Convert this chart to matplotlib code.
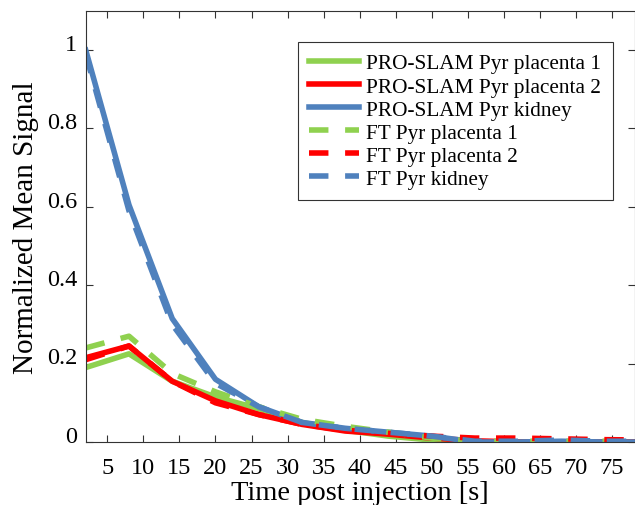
import matplotlib.pyplot as plt
import matplotlib.transforms as mtransforms
import numpy as np

plt.rcParams['font.family'] = ['Liberation Serif', 'DejaVu Serif']

t = [2, 8, 14, 20, 26, 32, 38, 44, 50, 56, 62, 68, 74, 80]

slam_plac1 = [0.19, 0.225, 0.155, 0.115, 0.085, 0.05, 0.03, 0.015, 0.005, 0.0, 0.0, 0.0, 0.0, 0.0]
slam_plac2 = [0.215, 0.245, 0.155, 0.105, 0.07, 0.045, 0.028, 0.02, 0.01, 0.003, 0.0, 0.0, 0.0, 0.0]
slam_kidney = [1.0, 0.605, 0.315, 0.16, 0.09, 0.05, 0.035, 0.025, 0.015, 0.0, 0.0, 0.002, 0.0, 0.0]
ft_plac1 = [0.24, 0.27, 0.175, 0.128, 0.09, 0.058, 0.04, 0.025, 0.01, 0.002, 0.002, 0.002, 0.002, 0.002]
ft_plac2 = [0.21, 0.245, 0.155, 0.10, 0.07, 0.045, 0.03, 0.022, 0.015, 0.01, 0.01, 0.008, 0.006, 0.005]
ft_kidney = [0.99, 0.59, 0.30, 0.15, 0.09, 0.05, 0.035, 0.025, 0.015, 0.002, 0.002, 0.005, 0.002, 0.002]

green = '#8fd14f'
red = '#ff0000'
blue = '#4f81bd'

fig = plt.figure(figsize=(6.35, 5.06), dpi=100)
ax = fig.add_axes([0.135, 0.1245, 0.865, 0.852])

lw = 4
ax.plot(t, slam_plac1, color=green, lw=lw, label='PRO-SLAM Pyr placenta 1')
ax.plot(t, slam_plac2, color=red, lw=lw, label='PRO-SLAM Pyr placenta 2')
ax.plot(t, slam_kidney, color=blue, lw=lw, label='PRO-SLAM Pyr kidney')
ax.plot(t, ft_plac1, color=green, lw=lw, dashes=(3.5, 3), label='FT Pyr placenta 1')
ax.plot(t, ft_plac2, color=red, lw=lw, dashes=(3.5, 3), label='FT Pyr placenta 2')
ax.plot(t, ft_kidney, color=blue, lw=lw, dashes=(3.5, 3), label='FT Pyr kidney')

ax.set_xlim(2, 78.2)
ax.set_ylim(0, 1.1)
ax.set_xticks(np.arange(5, 80, 5))
ax.set_yticks([0, 0.2, 0.4, 0.6, 0.8, 1])
ax.set_yticklabels(['0', '0.2', '0.4', '0.6', '0.8', '1'])
ax.tick_params(direction='in', length=5, top=True, right=True, labelsize=17.5, color='#333333')
ax.tick_params(axis='x', pad=11)
ax.tick_params(axis='y', pad=6)
# y tick labels sit a little above their ticks
off = mtransforms.ScaledTranslation(0, 6 / 72, fig.dpi_scale_trans)
for lab in ax.get_yticklabels():
    lab.set_transform(lab.get_transform() + off)
for s in ax.spines.values():
    s.set_color('#333333')

ax.set_xlabel('Time post injection [s]', fontsize=20.5, labelpad=1)
ax.set_ylabel('Normalized Mean Signal', fontsize=21, labelpad=6)

leg = ax.legend(loc='upper right', bbox_to_anchor=(0.96, 0.928), borderaxespad=0,
                fontsize=15.3, handlelength=2.35, frameon=True, fancybox=False,
                borderpad=0.55, labelspacing=0.15, handletextpad=0.33)
leg.get_frame().set_edgecolor('black')
leg.get_frame().set_linewidth(0.8)

fig.savefig('out.png', dpi=100)
